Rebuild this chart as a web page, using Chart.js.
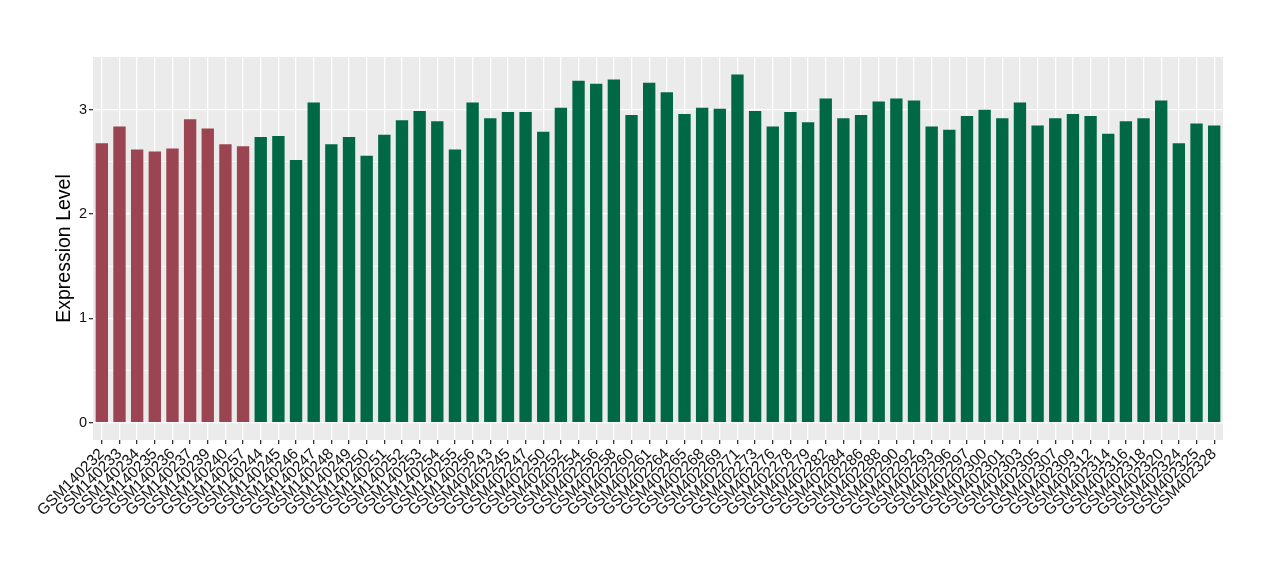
<!DOCTYPE html>
<html>
<head>
<meta charset="utf-8">
<script src="https://cdn.jsdelivr.net/npm/chart.js@4.4.1/dist/chart.umd.min.js"></script>
<style>
html,body{margin:0;padding:0;background:#fff;}
#wrap{width:1280px;height:580px;position:relative;}
</style>
</head>
<body>
<div id="wrap"><canvas id="c" width="1280" height="580"></canvas></div>
<script>
const categories = [
"GSM140232","GSM140233","GSM140234","GSM140235","GSM140236","GSM140237","GSM140239","GSM140240","GSM140257",
"GSM140244","GSM140245","GSM140246","GSM140247","GSM140248","GSM140249","GSM140250","GSM140251","GSM140252",
"GSM140253","GSM140254","GSM140255","GSM140256",
"GSM402243","GSM402245","GSM402247","GSM402250","GSM402252","GSM402254","GSM402256","GSM402258","GSM402260",
"GSM402261","GSM402264","GSM402265","GSM402268","GSM402269","GSM402271","GSM402273","GSM402276","GSM402278",
"GSM402279","GSM402282","GSM402284","GSM402286","GSM402288","GSM402290","GSM402292","GSM402293","GSM402296",
"GSM402297","GSM402300","GSM402301","GSM402303","GSM402305","GSM402307","GSM402309","GSM402312","GSM402314",
"GSM402316","GSM402318","GSM402320","GSM402324","GSM402325","GSM402328"
];
const values = [
2.68,2.84,2.62,2.60,2.63,2.91,2.82,2.67,2.65,
2.74,2.75,2.52,3.07,2.67,2.74,2.56,2.76,2.90,
2.99,2.89,2.62,3.07,
2.92,2.98,2.98,2.79,3.02,3.28,3.25,3.29,2.95,
3.26,3.17,2.96,3.02,3.01,3.34,2.99,2.84,2.98,
2.88,3.11,2.92,2.95,3.08,3.11,3.09,2.84,2.81,
2.94,3.00,2.92,3.07,2.85,2.92,2.96,2.94,2.77,
2.89,2.92,3.09,2.68,2.87,2.85
];
const groups = [
"control","control","control","control","control","control","control","control","control",
"case","case","case","case","case","case","case","case","case","case","case","case","case",
"case","case","case","case","case","case","case","case","case","case","case","case","case","case",
"case","case","case","case","case","case","case","case","case","case","case","case","case","case",
"case","case","case","case","case","case","case","case","case","case","case","case","case","case"
];
const yTicks = [0,0.5,1,1.5,2,2.5,3];
const groupColors = {control:"#9B4452", case:"#006845"};

const panelBg = {
  id:'panelBg',
  beforeDraw(chart){
    const a = chart.chartArea, ctx = chart.ctx;
    ctx.save();
    ctx.fillStyle = '#EBEBEB';
    ctx.fillRect(a.left, a.top, a.right-a.left, a.bottom-a.top);
    ctx.restore();
  }
};

const FONT = "'Liberation Sans', Arial, sans-serif";

new Chart(document.getElementById('c'), {
  type:'bar',
  data:{
    labels: categories,
    datasets:[{
      data: values,
      backgroundColor: groups.map(g=>groupColors[g]),
      barPercentage:0.7,
      categoryPercentage:1.0,
      borderWidth:0
    }]
  },
  options:{
    responsive:false,
    animation:false,
    devicePixelRatio:1,
    layout:{padding:{top:57,right:57,left:0,bottom:0}},
    plugins:{legend:{display:false},tooltip:{enabled:false}},
    scales:{
      x:{
        offset:true,
        border:{display:false},
        grid:{offset:false,color:'#FFFFFF',lineWidth:1.3,tickColor:'#333333',tickLength:4,drawTicks:true},
        ticks:{minRotation:45,maxRotation:45,autoSkip:false,padding:1,color:'#111111',font:{family:FONT,size:15.5}},
        afterFit(s){ s.height = 140; }
      },
      y:{
        min:-0.167,
        max:3.507,
        border:{display:false},
        afterBuildTicks(s){ s.ticks = yTicks.map(v=>({value:v})); },
        grid:{
          color:'#FFFFFF',
          lineWidth:(c)=> (c.tick && c.tick.value%1===0) ? 1.3 : 0.6,
          tickColor:(c)=> (c.tick && c.tick.value%1===0) ? '#333333' : 'rgba(0,0,0,0)',
          tickLength:4
        },
        ticks:{
          padding:2,
          color:'#111111',
          font:{family:FONT,size:14.5},
          callback:(v)=> (v%1===0) ? String(v) : ''
        },
        title:{display:true,text:'Expression Level',color:'#000',font:{family:FONT,size:19.5},padding:{top:53,bottom:0}},
        afterFit(s){ s.width = 93; }
      }
    }
  },
  plugins:[panelBg]
});
</script>
</body>
</html>
